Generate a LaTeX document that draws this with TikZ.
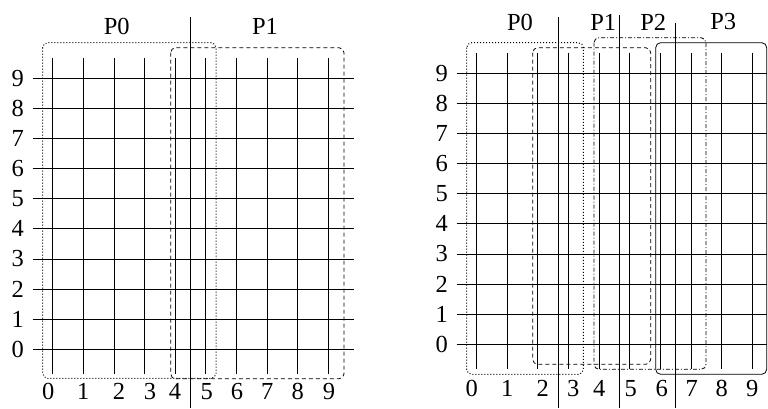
\documentclass[tikz,border=0pt]{standalone}
\usepackage{fontspec}
\setmainfont{Liberation Serif}
\begin{document}
\begin{tikzpicture}[x=1pt,y=-1pt,
  grid/.style={line width=0.9pt},
  lbl/.style={inner sep=0pt,font=\fontsize{24.5}{24.5}\selectfont},
  divider/.style={line width=0.9pt},
  part/.style={line width=0.8pt,rounded corners=5pt},
  pdot/.style={part,line width=1pt,dash pattern=on 1pt off 2pt},
  pdash/.style={part,dash pattern=on 4pt off 3pt},
  pdashdot/.style={part,dash pattern=on 4pt off 2pt on 1pt off 2pt},
  psolid/.style={part}]
\useasboundingbox (0,0) rectangle (768,408);

% ---------------- left diagram ----------------
\foreach \i in {0,...,9} {
  \draw[grid] ({52.7+30.63*\i},58.3) -- ({52.7+30.63*\i},374.3);
  \draw[grid] (32.7,{349.3-30.1*\i}) -- (354,{349.3-30.1*\i});
  \node[lbl] (ly\i) at (17.8,{349.3-30.1*\i}) {\i};
}
\foreach \i/\x in {0/48.3,1/83.3,2/119,3/150,4/175,5/206.7,6/237,7/267.3,8/297.7,9/329} {
  \node[lbl] (lx\i) at (\x,391.8) {\i};
}
\draw[pdot] (42.7,42.7) rectangle (216,378.3);
\draw[pdash] (170.7,47.7) rectangle (344,378.8);
\coordinate (ldt) at (190.7,17.3);
\coordinate (ldb) at (190.7,408);
\draw[divider] (ldt) -- (ldb);
\node[lbl] (lp0) at (116.7,26) {P0};
\node[lbl] (lp1) at (265,26) {P1};

% ---------------- right diagram ----------------
\foreach \i in {0,...,9} {
  \draw[grid] ({476.7+30.62*\i},52.7) -- ({476.7+30.62*\i},369.3);
  \draw[grid] (456.7,{344.3-30.1*\i}) -- (766.7,{344.3-30.1*\i});
  \node[lbl] (ry\i) at (441.7,{344.3-30.1*\i}) {\i};
}
\foreach \i/\x in {0/471.7,1/507.3,2/542.7,3/573.3,4/599.3,5/630.7,6/661.7,7/691.7,8/721.7,9/752.3} {
  \node[lbl] (rx\i) at (\x,388.3) {\i};
}
\draw[pdot] (466.7,42.7) rectangle (583.3,374.3);
\draw[pdash] (532.7,47.7) rectangle (650.7,364.3);
\draw[pdashdot] (594,37.7) rectangle (706,369.3);
\draw[psolid] (655.7,42.7) rectangle (766.7,374.3);
\coordinate (rd1t) at (558.3,17.3);
\coordinate (rd1b) at (558.3,408);
\coordinate (rd2t) at (619.3,15);
\coordinate (rd2b) at (619.3,408);
\coordinate (rd3t) at (675.7,22.7);
\coordinate (rd3b) at (675.7,408);
\draw[divider] (rd1t) -- (rd1b);
\draw[divider] (rd2t) -- (rd2b);
\draw[divider] (rd3t) -- (rd3b);
\node[lbl] (rp0) at (520,22) {P0};
\node[lbl] (rp1) at (603.3,22) {P1};
\node[lbl] (rp2) at (653.3,22) {P2};
\node[lbl] (rp3) at (723.3,22) {P3};
\end{tikzpicture}
\end{document}
